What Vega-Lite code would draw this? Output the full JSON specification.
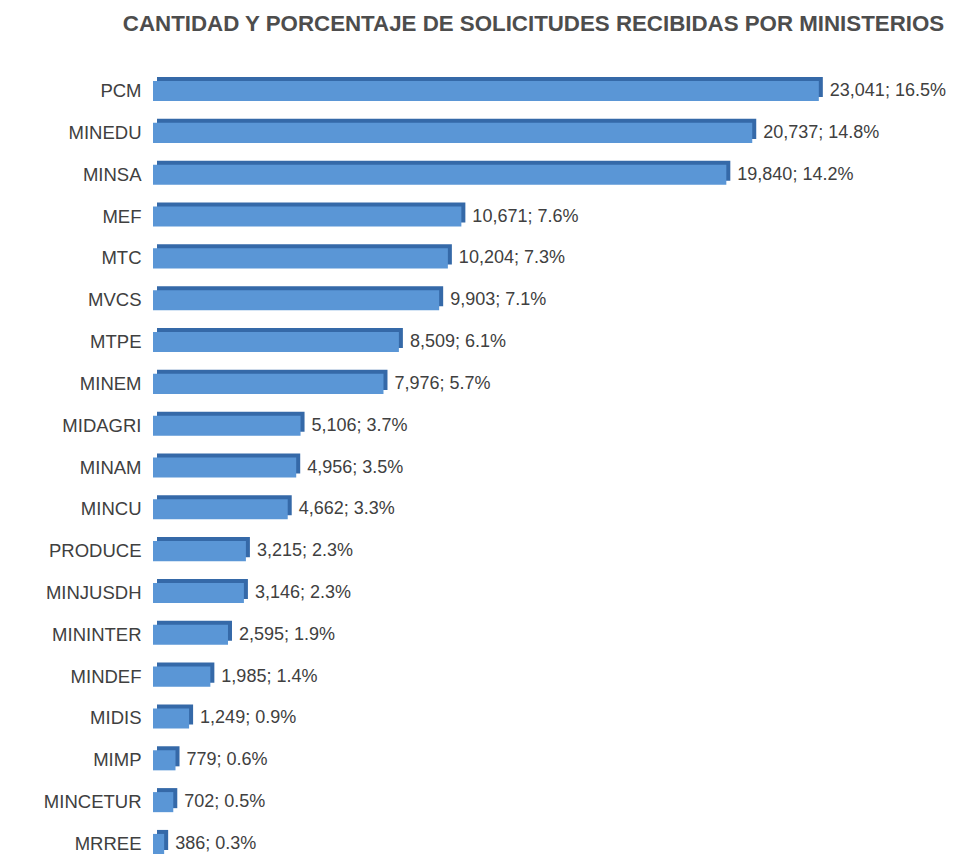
{
  "$schema": "https://vega.github.io/schema/vega-lite/v6.json",
  "autosize": {"type": "none"},
  "padding": {"left": 153, "top": 81, "right": 0, "bottom": 0},
  "width": 823,
  "height": 773,
  "background": "white",
  "view": {"stroke": null},
  "title": {
    "text": "CANTIDAD Y PORCENTAJE DE SOLICITUDES RECIBIDAS POR MINISTERIOS",
    "anchor": "middle",
    "frame": "group",
    "dx": -31,
    "offset": 42,
    "font": "Liberation Sans",
    "fontSize": 22.3,
    "fontWeight": "bold",
    "color": "#4d4d4d"
  },
  "data": {
    "values": [
      {"ministerio": "PCM", "solicitudes": 23041, "porcentaje": 16.5, "etiqueta": "23,041; 16.5%"},
      {"ministerio": "MINEDU", "solicitudes": 20737, "porcentaje": 14.8, "etiqueta": "20,737; 14.8%"},
      {"ministerio": "MINSA", "solicitudes": 19840, "porcentaje": 14.2, "etiqueta": "19,840; 14.2%"},
      {"ministerio": "MEF", "solicitudes": 10671, "porcentaje": 7.6, "etiqueta": "10,671; 7.6%"},
      {"ministerio": "MTC", "solicitudes": 10204, "porcentaje": 7.3, "etiqueta": "10,204; 7.3%"},
      {"ministerio": "MVCS", "solicitudes": 9903, "porcentaje": 7.1, "etiqueta": "9,903; 7.1%"},
      {"ministerio": "MTPE", "solicitudes": 8509, "porcentaje": 6.1, "etiqueta": "8,509; 6.1%"},
      {"ministerio": "MINEM", "solicitudes": 7976, "porcentaje": 5.7, "etiqueta": "7,976; 5.7%"},
      {"ministerio": "MIDAGRI", "solicitudes": 5106, "porcentaje": 3.7, "etiqueta": "5,106; 3.7%"},
      {"ministerio": "MINAM", "solicitudes": 4956, "porcentaje": 3.5, "etiqueta": "4,956; 3.5%"},
      {"ministerio": "MINCU", "solicitudes": 4662, "porcentaje": 3.3, "etiqueta": "4,662; 3.3%"},
      {"ministerio": "PRODUCE", "solicitudes": 3215, "porcentaje": 2.3, "etiqueta": "3,215; 2.3%"},
      {"ministerio": "MINJUSDH", "solicitudes": 3146, "porcentaje": 2.3, "etiqueta": "3,146; 2.3%"},
      {"ministerio": "MININTER", "solicitudes": 2595, "porcentaje": 1.9, "etiqueta": "2,595; 1.9%"},
      {"ministerio": "MINDEF", "solicitudes": 1985, "porcentaje": 1.4, "etiqueta": "1,985; 1.4%"},
      {"ministerio": "MIDIS", "solicitudes": 1249, "porcentaje": 0.9, "etiqueta": "1,249; 0.9%"},
      {"ministerio": "MIMP", "solicitudes": 779, "porcentaje": 0.6, "etiqueta": "779; 0.6%"},
      {"ministerio": "MINCETUR", "solicitudes": 702, "porcentaje": 0.5, "etiqueta": "702; 0.5%"},
      {"ministerio": "MRREE", "solicitudes": 386, "porcentaje": 0.3, "etiqueta": "386; 0.3%"}
    ]
  },
  "encoding": {
    "y": {
      "field": "ministerio",
      "type": "nominal",
      "sort": {"field": "solicitudes", "order": "descending"},
      "scale": {"paddingInner": 0.52, "paddingOuter": 0},
      "axis": {
        "title": null,
        "domain": false,
        "ticks": false,
        "labelPadding": 12,
        "labelFont": "Liberation Sans",
        "labelFontSize": 18.5,
        "labelColor": "#404040",
        "labelLimit": 200
      }
    },
    "x": {
      "field": "solicitudes",
      "type": "quantitative",
      "scale": {"domain": [0, 28480], "nice": false},
      "axis": null
    }
  },
  "layer": [
    {
      "mark": {"type": "bar", "color": "#3569a8", "xOffset": 4, "yOffset": -4}
    },
    {
      "mark": {"type": "bar", "color": "#5a96d6"}
    },
    {
      "mark": {
        "type": "text",
        "align": "left",
        "baseline": "middle",
        "dx": 11,
        "font": "Liberation Sans",
        "fontSize": 18,
        "color": "#404040"
      },
      "encoding": {"text": {"field": "etiqueta"}}
    }
  ]
}
